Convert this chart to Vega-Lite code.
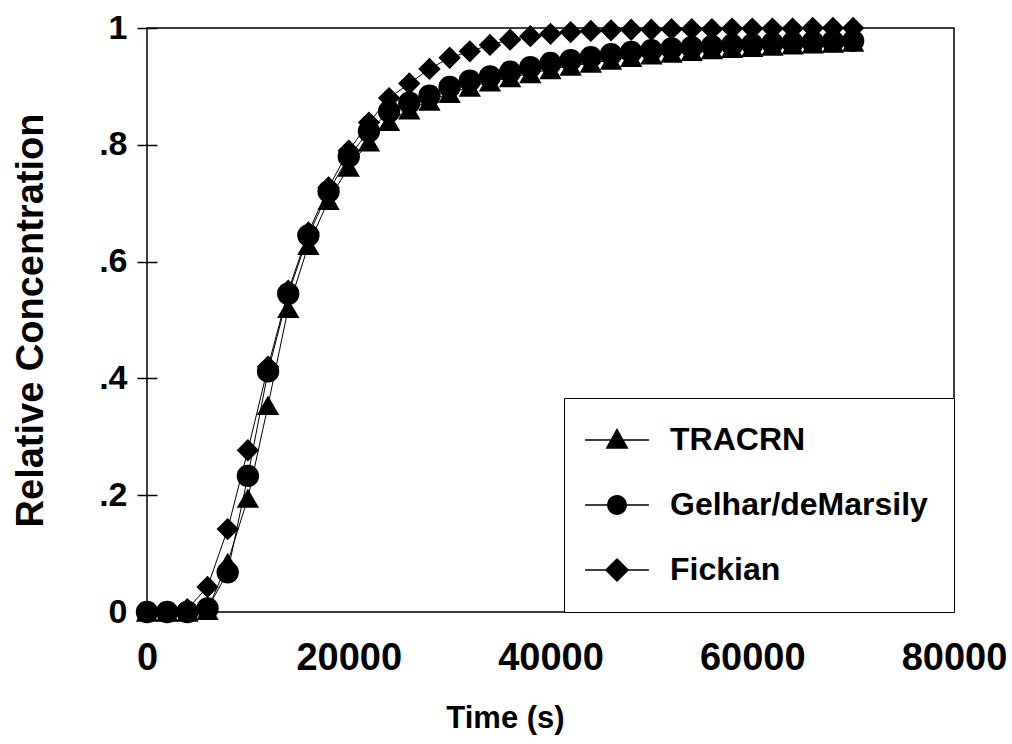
{
  "$schema": "https://vega.github.io/schema/vega-lite/v6.json",
  "width": 807,
  "height": 584,
  "autosize": "none",
  "padding": {"left": 147, "top": 28, "right": 58, "bottom": 132},
  "background": "white",
  "config": {
    "view": {"stroke": "black", "strokeWidth": 1.5},
    "font": "Liberation Sans"
  },
  "data": {"values": [
    {"t": 0, "c": 0.0, "model": "Fickian"},
    {"t": 2000, "c": 0.0, "model": "Fickian"},
    {"t": 4000, "c": 0.005, "model": "Fickian"},
    {"t": 6000, "c": 0.043, "model": "Fickian"},
    {"t": 8000, "c": 0.142, "model": "Fickian"},
    {"t": 10000, "c": 0.277, "model": "Fickian"},
    {"t": 12000, "c": 0.42, "model": "Fickian"},
    {"t": 14000, "c": 0.55, "model": "Fickian"},
    {"t": 16000, "c": 0.65, "model": "Fickian"},
    {"t": 18000, "c": 0.727, "model": "Fickian"},
    {"t": 20000, "c": 0.79, "model": "Fickian"},
    {"t": 22000, "c": 0.838, "model": "Fickian"},
    {"t": 24000, "c": 0.88, "model": "Fickian"},
    {"t": 26000, "c": 0.905, "model": "Fickian"},
    {"t": 28000, "c": 0.93, "model": "Fickian"},
    {"t": 30000, "c": 0.949, "model": "Fickian"},
    {"t": 32000, "c": 0.96, "model": "Fickian"},
    {"t": 34000, "c": 0.971, "model": "Fickian"},
    {"t": 36000, "c": 0.98, "model": "Fickian"},
    {"t": 38000, "c": 0.986, "model": "Fickian"},
    {"t": 40000, "c": 0.99, "model": "Fickian"},
    {"t": 42000, "c": 0.993, "model": "Fickian"},
    {"t": 44000, "c": 0.995, "model": "Fickian"},
    {"t": 46000, "c": 0.996, "model": "Fickian"},
    {"t": 48000, "c": 0.997, "model": "Fickian"},
    {"t": 50000, "c": 0.997, "model": "Fickian"},
    {"t": 52000, "c": 0.998, "model": "Fickian"},
    {"t": 54000, "c": 0.998, "model": "Fickian"},
    {"t": 56000, "c": 0.998, "model": "Fickian"},
    {"t": 58000, "c": 0.999, "model": "Fickian"},
    {"t": 60000, "c": 0.999, "model": "Fickian"},
    {"t": 62000, "c": 0.999, "model": "Fickian"},
    {"t": 64000, "c": 0.999, "model": "Fickian"},
    {"t": 66000, "c": 1.0, "model": "Fickian"},
    {"t": 68000, "c": 1.0, "model": "Fickian"},
    {"t": 70000, "c": 1.0, "model": "Fickian"},
    {"t": 0, "c": 0.0, "model": "Gelhar/deMarsily"},
    {"t": 2000, "c": 0.0, "model": "Gelhar/deMarsily"},
    {"t": 4000, "c": 0.0, "model": "Gelhar/deMarsily"},
    {"t": 6000, "c": 0.006, "model": "Gelhar/deMarsily"},
    {"t": 8000, "c": 0.068, "model": "Gelhar/deMarsily"},
    {"t": 10000, "c": 0.233, "model": "Gelhar/deMarsily"},
    {"t": 12000, "c": 0.412, "model": "Gelhar/deMarsily"},
    {"t": 14000, "c": 0.545, "model": "Gelhar/deMarsily"},
    {"t": 16000, "c": 0.645, "model": "Gelhar/deMarsily"},
    {"t": 18000, "c": 0.72, "model": "Gelhar/deMarsily"},
    {"t": 20000, "c": 0.78, "model": "Gelhar/deMarsily"},
    {"t": 22000, "c": 0.823, "model": "Gelhar/deMarsily"},
    {"t": 24000, "c": 0.857, "model": "Gelhar/deMarsily"},
    {"t": 26000, "c": 0.872, "model": "Gelhar/deMarsily"},
    {"t": 28000, "c": 0.884, "model": "Gelhar/deMarsily"},
    {"t": 30000, "c": 0.899, "model": "Gelhar/deMarsily"},
    {"t": 32000, "c": 0.91, "model": "Gelhar/deMarsily"},
    {"t": 34000, "c": 0.917, "model": "Gelhar/deMarsily"},
    {"t": 36000, "c": 0.925, "model": "Gelhar/deMarsily"},
    {"t": 38000, "c": 0.933, "model": "Gelhar/deMarsily"},
    {"t": 40000, "c": 0.94, "model": "Gelhar/deMarsily"},
    {"t": 42000, "c": 0.945, "model": "Gelhar/deMarsily"},
    {"t": 44000, "c": 0.95, "model": "Gelhar/deMarsily"},
    {"t": 46000, "c": 0.955, "model": "Gelhar/deMarsily"},
    {"t": 48000, "c": 0.959, "model": "Gelhar/deMarsily"},
    {"t": 50000, "c": 0.962, "model": "Gelhar/deMarsily"},
    {"t": 52000, "c": 0.965, "model": "Gelhar/deMarsily"},
    {"t": 54000, "c": 0.967, "model": "Gelhar/deMarsily"},
    {"t": 56000, "c": 0.969, "model": "Gelhar/deMarsily"},
    {"t": 58000, "c": 0.971, "model": "Gelhar/deMarsily"},
    {"t": 60000, "c": 0.972, "model": "Gelhar/deMarsily"},
    {"t": 62000, "c": 0.974, "model": "Gelhar/deMarsily"},
    {"t": 64000, "c": 0.975, "model": "Gelhar/deMarsily"},
    {"t": 66000, "c": 0.976, "model": "Gelhar/deMarsily"},
    {"t": 68000, "c": 0.977, "model": "Gelhar/deMarsily"},
    {"t": 70000, "c": 0.978, "model": "Gelhar/deMarsily"},
    {"t": 0, "c": 0.0, "model": "TRACRN"},
    {"t": 2000, "c": 0.0, "model": "TRACRN"},
    {"t": 4000, "c": 0.0, "model": "TRACRN"},
    {"t": 6000, "c": 0.003, "model": "TRACRN"},
    {"t": 8000, "c": 0.085, "model": "TRACRN"},
    {"t": 10000, "c": 0.195, "model": "TRACRN"},
    {"t": 12000, "c": 0.354, "model": "TRACRN"},
    {"t": 14000, "c": 0.52, "model": "TRACRN"},
    {"t": 16000, "c": 0.628, "model": "TRACRN"},
    {"t": 18000, "c": 0.705, "model": "TRACRN"},
    {"t": 20000, "c": 0.762, "model": "TRACRN"},
    {"t": 22000, "c": 0.805, "model": "TRACRN"},
    {"t": 24000, "c": 0.84, "model": "TRACRN"},
    {"t": 26000, "c": 0.86, "model": "TRACRN"},
    {"t": 28000, "c": 0.875, "model": "TRACRN"},
    {"t": 30000, "c": 0.888, "model": "TRACRN"},
    {"t": 32000, "c": 0.899, "model": "TRACRN"},
    {"t": 34000, "c": 0.908, "model": "TRACRN"},
    {"t": 36000, "c": 0.915, "model": "TRACRN"},
    {"t": 38000, "c": 0.922, "model": "TRACRN"},
    {"t": 40000, "c": 0.929, "model": "TRACRN"},
    {"t": 42000, "c": 0.935, "model": "TRACRN"},
    {"t": 44000, "c": 0.94, "model": "TRACRN"},
    {"t": 46000, "c": 0.945, "model": "TRACRN"},
    {"t": 48000, "c": 0.95, "model": "TRACRN"},
    {"t": 50000, "c": 0.954, "model": "TRACRN"},
    {"t": 52000, "c": 0.957, "model": "TRACRN"},
    {"t": 54000, "c": 0.96, "model": "TRACRN"},
    {"t": 56000, "c": 0.963, "model": "TRACRN"},
    {"t": 58000, "c": 0.965, "model": "TRACRN"},
    {"t": 60000, "c": 0.967, "model": "TRACRN"},
    {"t": 62000, "c": 0.969, "model": "TRACRN"},
    {"t": 64000, "c": 0.971, "model": "TRACRN"},
    {"t": 66000, "c": 0.973, "model": "TRACRN"},
    {"t": 68000, "c": 0.974, "model": "TRACRN"},
    {"t": 70000, "c": 0.976, "model": "TRACRN"}
  ]},
  "encoding": {
    "x": {
      "field": "t", "type": "quantitative",
      "scale": {"domain": [0, 80000], "nice": false, "zero": false},
      "axis": {
        "title": "Time (s)", "values": [0, 20000, 40000, 60000, 80000], "format": "d",
        "domain": false, "ticks": false, "grid": false,
        "labelFlush": false, "labelOverlap": false,
        "labelFont": "Liberation Sans", "labelFontSize": 38, "labelFontWeight": "bold", "labelColor": "black", "labelPadding": 27,
        "titleFont": "Liberation Sans", "titleFontSize": 31, "titleFontWeight": "bold", "titleColor": "black", "titlePadding": 26,
        "titleX": 358, "titleAlign": "center"
      }
    },
    "y": {
      "field": "c", "type": "quantitative",
      "scale": {"domain": [0, 1], "nice": false},
      "axis": {
        "title": "Relative Concentration", "values": [0, 0.2, 0.4, 0.6, 0.8, 1], "format": ".1~f",
        "labelExpr": "replace(datum.label, '0.', '.')",
        "domain": false, "grid": false, "offset": -10, "tickSize": 20, "tickWidth": 1.5, "tickColor": "black",
        "labelFlush": false, "labelOverlap": false,
        "labelFont": "Liberation Sans", "labelFontSize": 34, "labelFontWeight": "bold", "labelColor": "black", "labelPadding": 10,
        "titleFont": "Liberation Sans", "titleFontSize": 38, "titleFontWeight": "bold", "titleColor": "black", "titlePadding": 48
      }
    }
  },
  "layer": [
    {
      "mark": {"type": "line", "color": "black", "strokeWidth": 1},
      "encoding": {"detail": {"field": "model"}}
    },
    {
      "mark": {"type": "point", "filled": true, "color": "black", "opacity": 1, "size": 500},
      "encoding": {
        "shape": {
          "field": "model", "type": "nominal",
          "scale": {"domain": ["TRACRN", "Gelhar/deMarsily", "Fickian"], "range": ["triangle-up", "circle", "diamond"]},
          "legend": null
        }
      }
    },
    {
      "mark": {"type": "point", "filled": true, "color": "black", "opacity": 1, "size": 0},
      "encoding": {
        "shape": {
          "field": "model", "type": "nominal",
          "scale": {"domain": ["TRACRN", "Gelhar/deMarsily", "Fickian"], "range": [
            "M-2.9,-0.06H2.9V0.06H-2.9ZM0,-1.1L1.05,0.8L-1.05,0.8Z",
            "M-2.9,-0.06H2.9V0.06H-2.9ZM0.9,0A0.9,0.9,0,1,1,-0.9,0A0.9,0.9,0,1,1,0.9,0Z",
            "M-2.9,-0.06H2.9V0.06H-2.9ZM-1.1,0L0,-1.1L1.1,0L0,1.1Z"
          ]},
          "legend": {
            "title": null, "orient": "bottom-right", "offset": 0,
            "strokeColor": "black", "fillColor": "white", "padding": 26,
            "symbolSize": 484, "symbolOffset": 11, "labelOffset": 37, "rowPadding": 33,
            "labelLimit": 0,
            "labelFont": "Liberation Sans", "labelFontSize": 32, "labelFontWeight": "bold", "labelColor": "black",
            "symbolFillColor": "black", "symbolOpacity": 1
          }
        }
      }
    }
  ],
  "resolve": {"scale": {"shape": "independent"}, "legend": {"shape": "independent"}}
}
